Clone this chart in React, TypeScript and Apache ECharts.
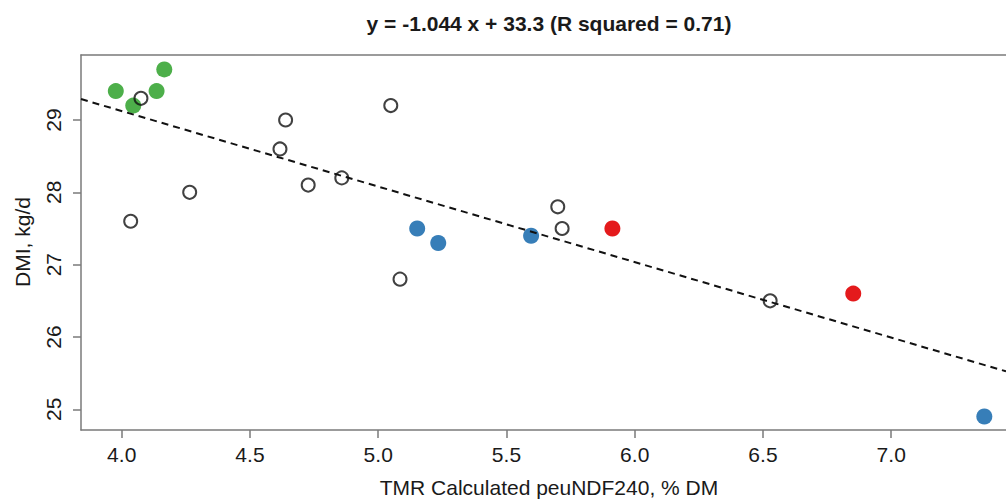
import React, { useEffect, useRef } from "react";
import * as echarts from "echarts";

const titleText = "y = -1.044 x + 33.3 (R squared = 0.71)";
const xAxisTitle = "TMR Calculated peuNDF240, % DM";
const yAxisTitle = "DMI, kg/d";

const slope = -1.044;
const intercept = 33.3;

const xTicks = [4.0, 4.5, 5.0, 5.5, 6.0, 6.5, 7.0];
const yTicks = [25, 26, 27, 28, 29];

const xRange = [3.8413, 7.4475];
const yRange = [24.714, 29.899];

const openX = [4.075, 4.639, 4.617, 4.265, 4.727, 4.035, 4.858, 5.049, 5.085, 5.7, 5.717, 6.528];
const openY = [29.3, 29.0, 28.6, 28.0, 28.1, 27.6, 28.2, 29.2, 26.8, 27.8, 27.5, 26.5];

const greenX = [3.977, 4.045, 4.136, 4.166];
const greenY = [29.4, 29.2, 29.4, 29.7];

const blueX = [5.152, 5.234, 5.596, 7.363];
const blueY = [27.5, 27.3, 27.4, 24.9];

const redX = [5.913, 6.852];
const redY = [27.5, 26.6];

const pairs = (xs: number[], ys: number[]) => xs.map((x, i) => [x, ys[i]]);

const FONT = "Liberation Sans, Arial, Helvetica, sans-serif";
const TEXT = "#1a1a1a";
const AXIS = "#7a7a7a";

export default function App() {
  const ref = useRef<HTMLDivElement>(null);
  useEffect(() => {
    if (!ref.current) return;
    const chart = echarts.init(ref.current, undefined, { renderer: "svg" });
    const filled = (name: string, data: number[][], color: string) => ({
      name,
      type: "scatter",
      data,
      symbol: "circle",
      symbolSize: 16,
      itemStyle: { color, opacity: 1 },
      silent: true,
    });
    chart.setOption({
      animation: false,
      backgroundColor: "#ffffff",
      grid: {
        left: 81,
        right: 0,
        top: 55,
        bottom: 70,
        show: false,
      },
      xAxis: [
        {
          type: "value",
          position: "bottom",
          min: xRange[0],
          max: xRange[1],
          splitLine: { show: false },
          axisLine: { show: true, onZero: false, lineStyle: { color: AXIS, width: 1.5 } },
          axisTick: {
            show: true,
            length: 8,
            inside: false,
            customValues: xTicks,
            lineStyle: { color: AXIS, width: 1.5 },
          },
          axisLabel: {
            show: true,
            customValues: xTicks,
            margin: 14,
            fontSize: 21,
            fontFamily: FONT,
            color: TEXT,
            formatter: (v: number) => v.toFixed(1),
          },
        },
        {
          type: "value",
          position: "top",
          min: xRange[0],
          max: xRange[1],
          splitLine: { show: false },
          axisLine: { show: true, onZero: false, lineStyle: { color: AXIS, width: 1.5 } },
          axisTick: { show: false },
          axisLabel: { show: false },
        },
      ],
      yAxis: {
        type: "value",
        min: yRange[0],
        max: yRange[1],
        splitLine: { show: false },
        axisLine: { show: true, onZero: false, lineStyle: { color: AXIS, width: 1.5 } },
        axisTick: {
          show: true,
          length: 8,
          inside: false,
          customValues: yTicks,
          lineStyle: { color: AXIS, width: 1.5 },
        },
        axisLabel: {
          show: true,
          customValues: yTicks,
          rotate: 90,
          margin: 17,
          fontSize: 21,
          fontFamily: FONT,
          color: TEXT,
          formatter: (v: number) => String(v),
        },
      },
      graphic: [
        {
          type: "text",
          x: 549,
          y: 23,
          style: {
            text: titleText,
            font: `bold 21px ${FONT}`,
            fill: TEXT,
            textAlign: "center",
            textVerticalAlign: "middle",
            align: "center",
            verticalAlign: "middle",
          },
        },
        {
          type: "text",
          x: 549,
          y: 487,
          style: {
            text: xAxisTitle,
            font: `21px ${FONT}`,
            fill: TEXT,
            textAlign: "center",
            textVerticalAlign: "middle",
            align: "center",
            verticalAlign: "middle",
          },
        },
        {
          type: "text",
          x: 22,
          y: 242,
          rotation: Math.PI / 2,
          style: {
            text: yAxisTitle,
            font: `21px ${FONT}`,
            fill: TEXT,
            textAlign: "center",
            textVerticalAlign: "middle",
            align: "center",
            verticalAlign: "middle",
          },
        },
      ],
      series: [
        filled("green", pairs(greenX, greenY), "#4DAF4A"),
        filled("blue", pairs(blueX, blueY), "#377EB8"),
        filled("red", pairs(redX, redY), "#E41A1C"),
        {
          name: "open",
          type: "scatter",
          data: pairs(openX, openY),
          symbol: "circle",
          symbolSize: 13,
          itemStyle: { color: "rgba(0,0,0,0)", borderColor: "#111111", borderWidth: 2 },
          silent: true,
        },
        {
          name: "fit",
          type: "line",
          data: xRange.map((x) => [x, slope * x + intercept]),
          symbol: "none",
          clip: true,
          lineStyle: { color: "#111111", width: 2, type: [7, 5] },
          silent: true,
        },
      ],
    });
    return () => chart.dispose();
  }, []);
  return (
    <div
      ref={ref}
      style={{ position: "absolute", left: 0, top: 0, width: 1006, height: 500 }}
    />
  );
}
